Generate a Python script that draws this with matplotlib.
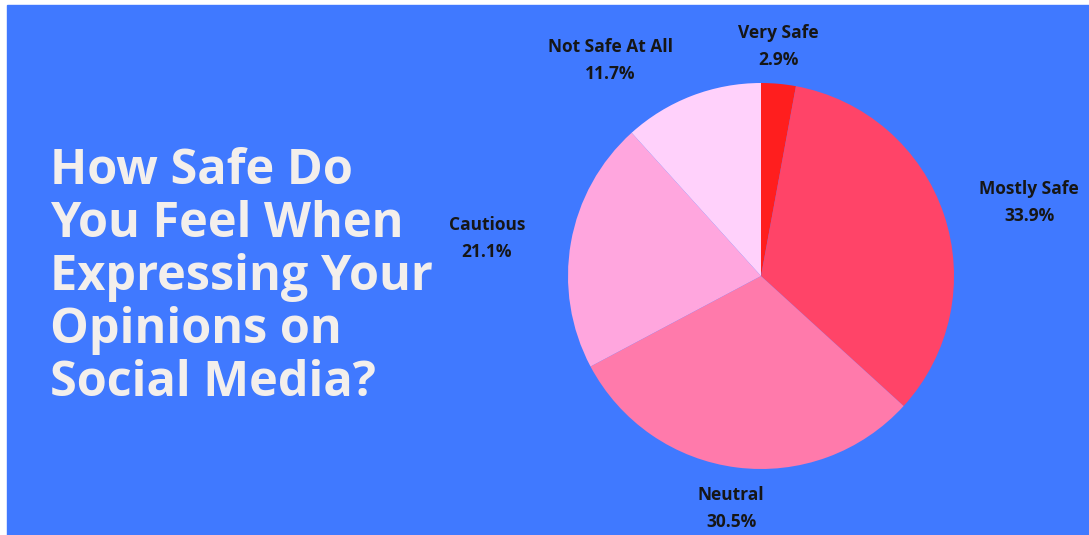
import matplotlib.pyplot as plt
from matplotlib.patches import Rectangle

# data
categories = ['Very Safe', 'Mostly Safe', 'Neutral', 'Cautious', 'Not Safe At All']
shares = [2.9, 33.9, 30.5, 21.1, 11.7]
colors = ['#FF1E1E', '#FF4468', '#FF7AAB', '#FFA6DE', '#FFD1FB']
title_lines = ['How Safe Do', 'You Feel When', 'Expressing Your', 'Opinions on', 'Social Media?']

# label centers in pie data units (radius = 1)
label_xy = [(0.09, 1.19), (1.39, 0.38), (-0.155, -1.205), (-1.42, 0.195), (-0.78, 1.115)]

W, H = 1089, 535
bg = '#4079FF'

fig = plt.figure(figsize=(W / 100, H / 100), dpi=100, facecolor='white')
fig.patches.append(Rectangle((7 / W, 0), 1 - 7 / W, (H - 5) / H,
                             transform=fig.transFigure, color=bg, zorder=-10))

# title, one line at a time
for i, line in enumerate(title_lines):
    fig.text(50 / W, 1 - (152 + 53 * i - 5) / H, line, ha='left', va='top',
             fontsize=35, fontweight='bold', family='Open Sans', color='#F3EFEC')

cx, cy, r = 761, H - 276, 193
ax = fig.add_axes([(cx - r) / W, (cy - r) / H, 2 * r / W, 2 * r / H])
ax.pie(shares, colors=colors, startangle=90, counterclock=False,
       radius=1, wedgeprops=dict(linewidth=0))
ax.set_xlim(-1, 1)
ax.set_ylim(-1, 1)

for name, val, (x, y) in zip(categories, shares, label_xy):
    ax.text(x, y, f'{name}\n{val}%', ha='center', va='center', fontsize=12.5,
            fontweight='bold', family='Open Sans', color='#161616',
            linespacing=1.65, clip_on=False)

fig.savefig('out.png', dpi=100, facecolor='white')
